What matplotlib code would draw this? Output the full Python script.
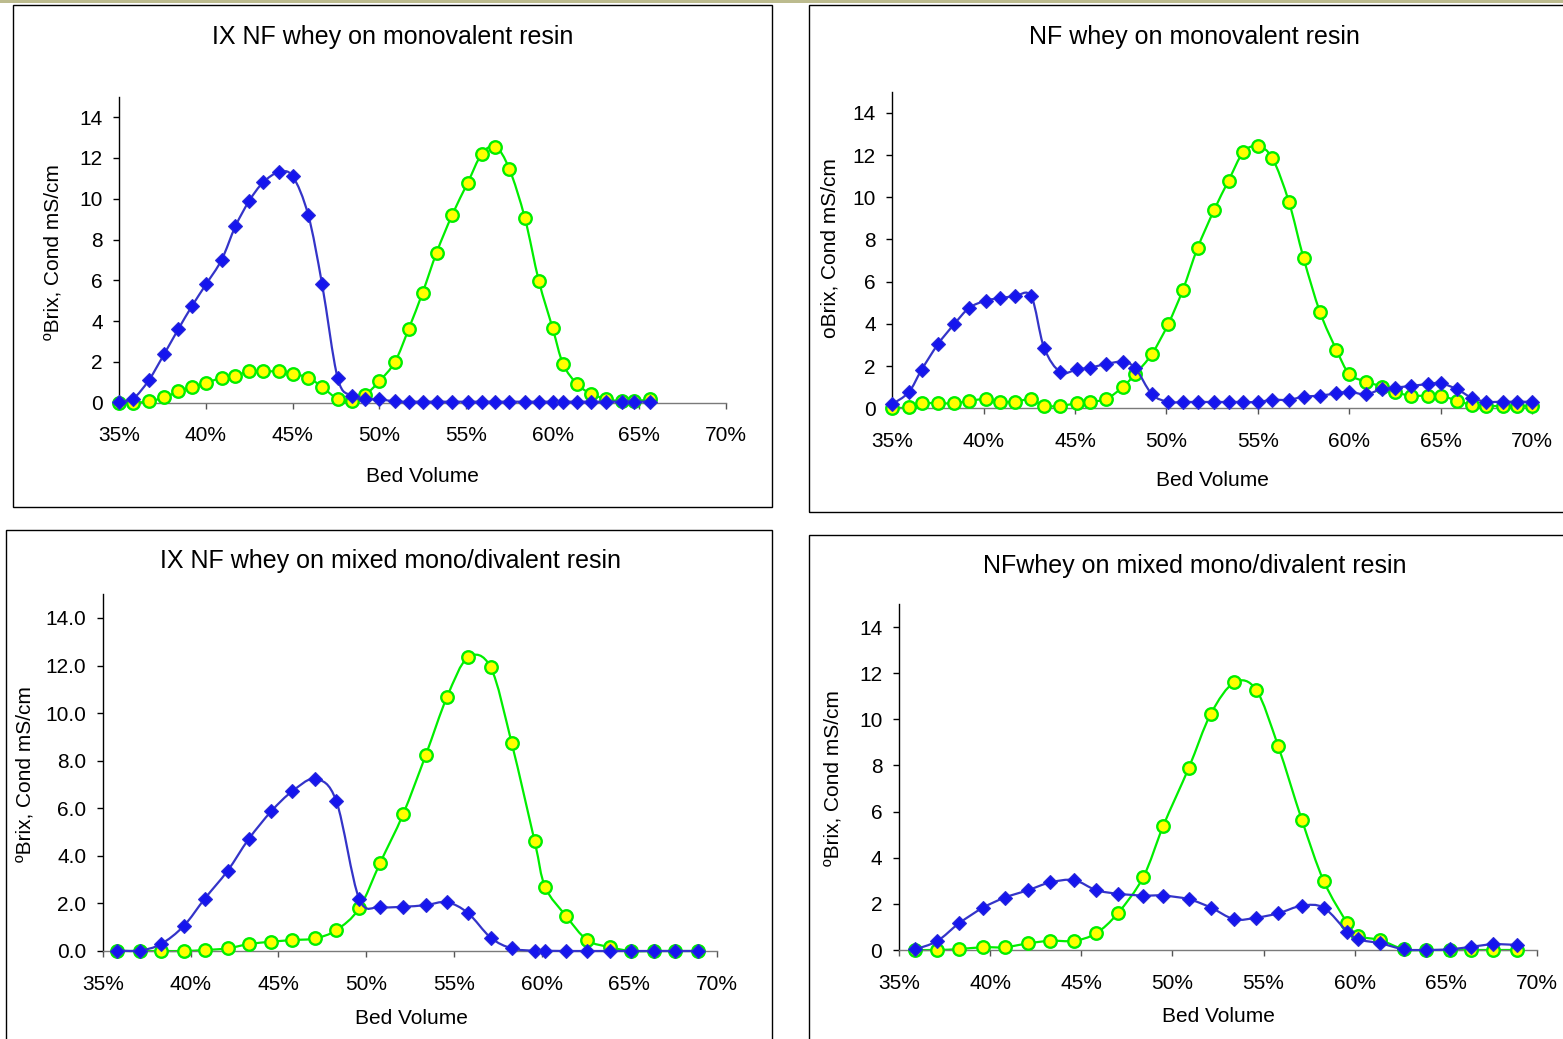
import matplotlib
matplotlib.use("Agg")
import matplotlib.pyplot as plt
from matplotlib.ticker import FuncFormatter
from matplotlib.patches import Rectangle, PathPatch
from matplotlib.path import Path

plt.rcParams['font.family'] = ['Liberation Sans', 'DejaVu Sans']

W, H = 1563, 1039

# ---------------- data ----------------
titles = ["IX NF whey on monovalent resin",
          "NF whey on monovalent resin",
          "IX NF whey on mixed mono/divalent resin",
          "NFwhey on mixed mono/divalent resin"]
ylabels = ["\u00baBrix, Cond mS/cm", "oBrix, Cond mS/cm",
           "\u00baBrix, Cond mS/cm", "\u00baBrix, Cond mS/cm"]
xlabel = "Bed Volume"
xticks = [35, 40, 45, 50, 55, 60, 65, 70]
yticks = [0, 2, 4, 6, 8, 10, 12, 14]

# Panel 1: IX NF whey on monovalent resin (bed volume, %)
bv_1 = [35.0, 35.8, 36.7, 37.6, 38.4, 39.2, 40.0, 40.9, 41.7, 42.5,
        43.3, 44.2, 45.0, 45.9, 46.7, 47.6, 48.4, 49.2, 50.0, 50.9,
        51.7, 52.5, 53.3, 54.2, 55.1, 55.9, 56.7, 57.5, 58.4, 59.2,
        60.0, 60.6, 61.4, 62.2, 63.1, 64.0, 64.7, 65.6]
cond_1 = [0.05, 0.2, 1.1, 2.4, 3.6, 4.75, 5.8, 7.0, 8.65, 9.9,
          10.8, 11.3, 11.1, 9.2, 5.8, 1.2, 0.35, 0.18, 0.17, 0.06,
          0.05, 0.05, 0.05, 0.05, 0.05, 0.05, 0.05, 0.05, 0.05, 0.05,
          0.05, 0.05, 0.05, 0.05, 0.05, 0.05, 0.05, 0.05]
brix_1 = [0.0, 0.0, 0.06, 0.26, 0.55, 0.77, 0.96, 1.23, 1.33, 1.53,
          1.53, 1.53, 1.41, 1.23, 0.77, 0.18, 0.06, 0.39, 1.05, 2.0,
          3.63, 5.4, 7.35, 9.2, 10.78, 12.18, 12.55, 11.46, 9.04, 5.98,
          3.65, 1.9, 0.92, 0.44, 0.18, 0.06, 0.06, 0.18]

# Panel 2: NF whey on monovalent resin
bv_2 = [35.0, 35.9, 36.6, 37.5, 38.4, 39.2, 40.1, 40.9, 41.7, 42.6,
        43.3, 44.2, 45.1, 45.8, 46.7, 47.6, 48.3, 49.2, 50.1, 50.9,
        51.7, 52.6, 53.4, 54.2, 55.0, 55.8, 56.7, 57.5, 58.4, 59.3,
        60.0, 60.9, 61.8, 62.5, 63.4, 64.3, 65.0, 65.9, 66.7, 67.5,
        68.4, 69.2, 70.0]
cond_2 = [0.2, 0.76, 1.82, 3.04, 4.0, 4.75, 5.1, 5.22, 5.3, 5.3,
          2.88, 1.71, 1.85, 1.92, 2.1, 2.2, 1.9, 0.67, 0.3, 0.3,
          0.3, 0.3, 0.3, 0.3, 0.3, 0.4, 0.4, 0.55, 0.6, 0.71,
          0.79, 0.66, 0.92, 0.98, 1.06, 1.15, 1.19, 0.9, 0.5, 0.31,
          0.31, 0.31, 0.31]
brix_2 = [0.0, 0.05, 0.24, 0.24, 0.24, 0.35, 0.44, 0.31, 0.31, 0.43,
          0.11, 0.12, 0.24, 0.31, 0.44, 1.0, 1.63, 2.57, 4.0, 5.62,
          7.59, 9.38, 10.79, 12.13, 12.42, 11.84, 9.78, 7.12, 4.56, 2.77,
          1.63, 1.26, 1.03, 0.76, 0.6, 0.6, 0.6, 0.36, 0.16, 0.11,
          0.11, 0.11, 0.11]

# Panel 3: IX NF whey on mixed mono/divalent resin
bv_3 = [35.8, 37.1, 38.3, 39.6, 40.8, 42.1, 43.3, 44.6, 45.8, 47.1,
        48.3, 49.6, 50.8, 52.1, 53.4, 54.6, 55.8, 57.1, 58.3, 59.6,
        60.2, 61.4, 62.6, 63.9, 65.1, 66.4, 67.6, 68.9]
cond_3 = [0.02, 0.02, 0.29, 1.05, 2.2, 3.37, 4.7, 5.88, 6.72, 7.23,
          6.3, 2.2, 1.86, 1.86, 1.93, 2.05, 1.6, 0.56, 0.11, 0.01,
          0.01, 0.0, 0.0, 0.0, 0.0, 0.0, 0.0, 0.0]
brix_3 = [0.0, 0.0, 0.0, 0.0, 0.04, 0.11, 0.29, 0.39, 0.46, 0.53,
          0.88, 1.79, 3.71, 5.74, 8.24, 10.66, 12.34, 11.92, 8.73, 4.63,
          2.7, 1.47, 0.46, 0.16, 0.0, 0.0, 0.0, 0.0]

# Panel 4: NF whey on mixed mono/divalent resin
bv_4 = [35.9, 37.1, 38.3, 39.6, 40.8, 42.1, 43.3, 44.6, 45.8, 47.0,
        48.4, 49.5, 50.9, 52.1, 53.4, 54.6, 55.8, 57.1, 58.3, 59.6,
        60.2, 61.4, 62.7, 63.9, 65.2, 66.4, 67.6, 68.9]
cond_4 = [0.03, 0.39, 1.16, 1.83, 2.27, 2.6, 2.93, 3.03, 2.6, 2.44,
          2.36, 2.36, 2.2, 1.84, 1.33, 1.4, 1.59, 1.92, 1.83, 0.79,
          0.46, 0.29, 0.03, 0.0, 0.03, 0.14, 0.25, 0.22]
brix_4 = [0.0, 0.0, 0.04, 0.12, 0.12, 0.29, 0.4, 0.4, 0.72, 1.59,
          3.16, 5.39, 7.9, 10.23, 11.6, 11.27, 8.84, 5.64, 2.99, 1.16,
          0.61, 0.43, 0.03, 0.0, 0.0, 0.0, 0.0, 0.0]

# ---------------- layout (pixel geometry) ----------------
def fx(px):
    return px / W

def fy(py):
    return 1 - py / H

panels = [
    dict(bv=bv_1, cond=cond_1, brix=brix_1,
         ax=(119.3, 726, 402.7, 96.7), frame=(13, 772, 5, 507),
         title=(393, 37), xl=(422, 476), yl=(53, 340), fmt="{:.0f}"),
    dict(bv=bv_2, cond=cond_2, brix=brix_2,
         ax=(892.3, 1532, 408.3, 91.7), frame=(809, 1575, 5, 512),
         title=(1194, 37), xl=(1212, 481), yl=(830, 338), fmt="{:.0f}"),
    dict(bv=bv_3, cond=cond_3, brix=brix_3,
         ax=(103, 717, 951, 594.2), frame=(6, 772, 530, 1050),
         title=(390, 561), xl=(411, 1018), yl=(25, 862), fmt="{:.1f}"),
    dict(bv=bv_4, cond=cond_4, brix=brix_4,
         ax=(899, 1537, 950, 604), frame=(809, 1575, 535, 1050),
         title=(1195, 566), xl=(1218, 1016), yl=(833, 866), fmt="{:.0f}"),
]


def smooth_line(ax, xs, ys, **kw):
    """Excel-style smoothed line: cubic Bezier segments through the data points."""
    n = len(xs)
    verts = [(xs[0], ys[0])]
    codes = [Path.MOVETO]
    for i in range(n - 1):
        xm, ym = (xs[i - 1], ys[i - 1]) if i > 0 else (xs[i], ys[i])
        xp, yp = (xs[i + 2], ys[i + 2]) if i + 2 < n else (xs[i + 1], ys[i + 1])
        c1 = (xs[i] + (xs[i + 1] - xm) / 6.0, ys[i] + (ys[i + 1] - ym) / 6.0)
        c2 = (xs[i + 1] - (xp - xs[i]) / 6.0, ys[i + 1] - (yp - ys[i]) / 6.0)
        verts += [c1, c2, (xs[i + 1], ys[i + 1])]
        codes += [Path.CURVE4, Path.CURVE4, Path.CURVE4]
    patch = PathPatch(Path(verts, codes), facecolor='none', transform=ax.transData,
                      clip_on=False, **kw)
    ax.add_patch(patch)


fig = plt.figure(figsize=(W / 100, H / 100), dpi=100)
fig.patch.set_facecolor('white')

# thin olive strip at the very top
fig.patches.append(Rectangle((0, fy(3)), 1, 3 / H, transform=fig.transFigure,
                             facecolor='#bcbb8e', edgecolor='none', zorder=0))

BLUE_LINE = '#3434c8'
BLUE_MARK = '#1515ee'
GREEN = '#00ee00'
YELLOW = '#ffff00'

for i, p in enumerate(panels):
    x0, x1, y0, y1 = p['frame']
    fig.patches.append(Rectangle((fx(x0), fy(y1)), (x1 - x0) / W, (y1 - y0) / H,
                                 transform=fig.transFigure, facecolor='none',
                                 edgecolor='black', linewidth=1.0, zorder=1))
    l, r, b, t = p['ax']
    ax = fig.add_axes([fx(l), fy(b), (r - l) / W, (b - t) / H])
    ax.patch.set_alpha(0)
    ax.set_xlim(35, 70)
    ax.set_ylim(0, 15)
    smooth_line(ax, p['bv'], p['brix'], edgecolor=GREEN, linewidth=1.6, zorder=2)
    ax.plot(p['bv'], p['brix'], linestyle='none', marker='o', ms=9,
            mfc=YELLOW, mec=GREEN, mew=1.7, clip_on=False, zorder=3)
    smooth_line(ax, p['bv'], p['cond'], edgecolor=BLUE_LINE, linewidth=1.6, zorder=4)
    ax.plot(p['bv'], p['cond'], linestyle='none', marker='D', ms=7.3,
            mfc=BLUE_MARK, mec='#2a2ad8', mew=0.8, clip_on=False, zorder=5)
    ax.set_xticks(xticks)
    ax.set_yticks(yticks)
    ax.xaxis.set_major_formatter(FuncFormatter(lambda v, _: f"{v:.0f}%"))
    f = p['fmt']
    ax.yaxis.set_major_formatter(FuncFormatter(lambda v, _, f=f: f.format(v)))
    for s in ('top', 'right'):
        ax.spines[s].set_visible(False)
    ax.spines['left'].set_color('black')
    ax.spines['bottom'].set_color('#7a7a7a')
    ax.spines['left'].set_linewidth(1.0)
    ax.spines['bottom'].set_linewidth(1.0)
    ax.tick_params(axis='y', direction='out', length=4, width=1, color='black',
                   labelsize=15, pad=8)
    ax.tick_params(axis='x', direction='out', length=4, width=1, color='#555555',
                   labelsize=15, pad=13)
    fig.text(fx(p['title'][0]), fy(p['title'][1]), titles[i], ha='center',
             va='center', fontsize=18)
    fig.text(fx(p['xl'][0]), fy(p['xl'][1]), xlabel, ha='center', va='center',
             fontsize=15)
    fig.text(fx(p['yl'][0]), fy(p['yl'][1]), ylabels[i], ha='center',
             va='bottom', rotation=90, fontsize=15)

fig.savefig('out.png', dpi=100)
